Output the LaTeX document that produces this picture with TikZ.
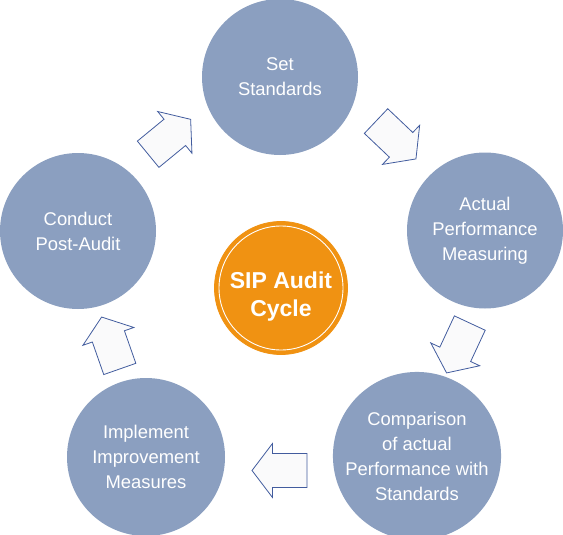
\documentclass[tikz,border=0pt]{standalone}
\usepackage{fontspec}
\setmainfont{Liberation Sans}
\definecolor{cblue}{RGB}{139,159,192}
\definecolor{corange}{RGB}{240,146,18}
\definecolor{aline}{RGB}{66,92,158}
\definecolor{afill}{RGB}{250,250,251}
\tikzset{
  stepcircle/.style={circle, fill=cblue, draw=none, minimum size=156pt, inner sep=0pt,
    text=white, align=center, font=\fontsize{18.4}{25}\selectfont},
  hub/.style={circle, fill=corange, draw=corange, line width=0.8pt, minimum size=133pt, inner sep=0pt},
  hubtext/.style={text=white, align=center, font=\fontsize{23}{28}\selectfont\bfseries},
  blockarrow/.style={draw=aline, fill=afill, line width=0.8pt, line join=miter}
}
\newcommand{\blkarrow}[3]{%
  \begin{scope}[shift={(#1,#2)}, rotate=#3]
    \draw[blockarrow] (-27.5,-17) -- (7,-17) -- (7,-27) -- (27.5,0) -- (7,27) -- (7,17) -- (-27.5,17) -- cycle;
  \end{scope}}
\begin{document}
\begin{tikzpicture}[x=1pt,y=1pt]
\useasboundingbox (0,0) rectangle (563,-535);
\node[stepcircle] (set) at (280,-77) {Set\\Standards};
\node[stepcircle] (actual) at (485,-230.5) {Actual\\Performance\\Measuring};
\node[stepcircle] (compare) at (417,-456) {Comparison\\of actual\\Performance with\\Standards};
\node[stepcircle, minimum size=158pt] (implement) at (146,-457) {Implement\\Improvement\\Measures};
\node[stepcircle] (conduct) at (78,-231) {Conduct\\Post-Audit};
\node[hub] (center) at (281,-288) {};
\draw[white, line width=0.9pt] (center.center) circle (62pt);
\node[hubtext] (centertext) at (281,-297) {SIP Audit\\Cycle};
\blkarrow{169.4}{-136.8}{39.4}
\blkarrow{396}{-140}{-43.5}
\blkarrow{458.2}{-348}{-115}
\blkarrow{279.5}{-470.5}{180}
\blkarrow{110.7}{-343}{109.3}
\end{tikzpicture}
\end{document}
